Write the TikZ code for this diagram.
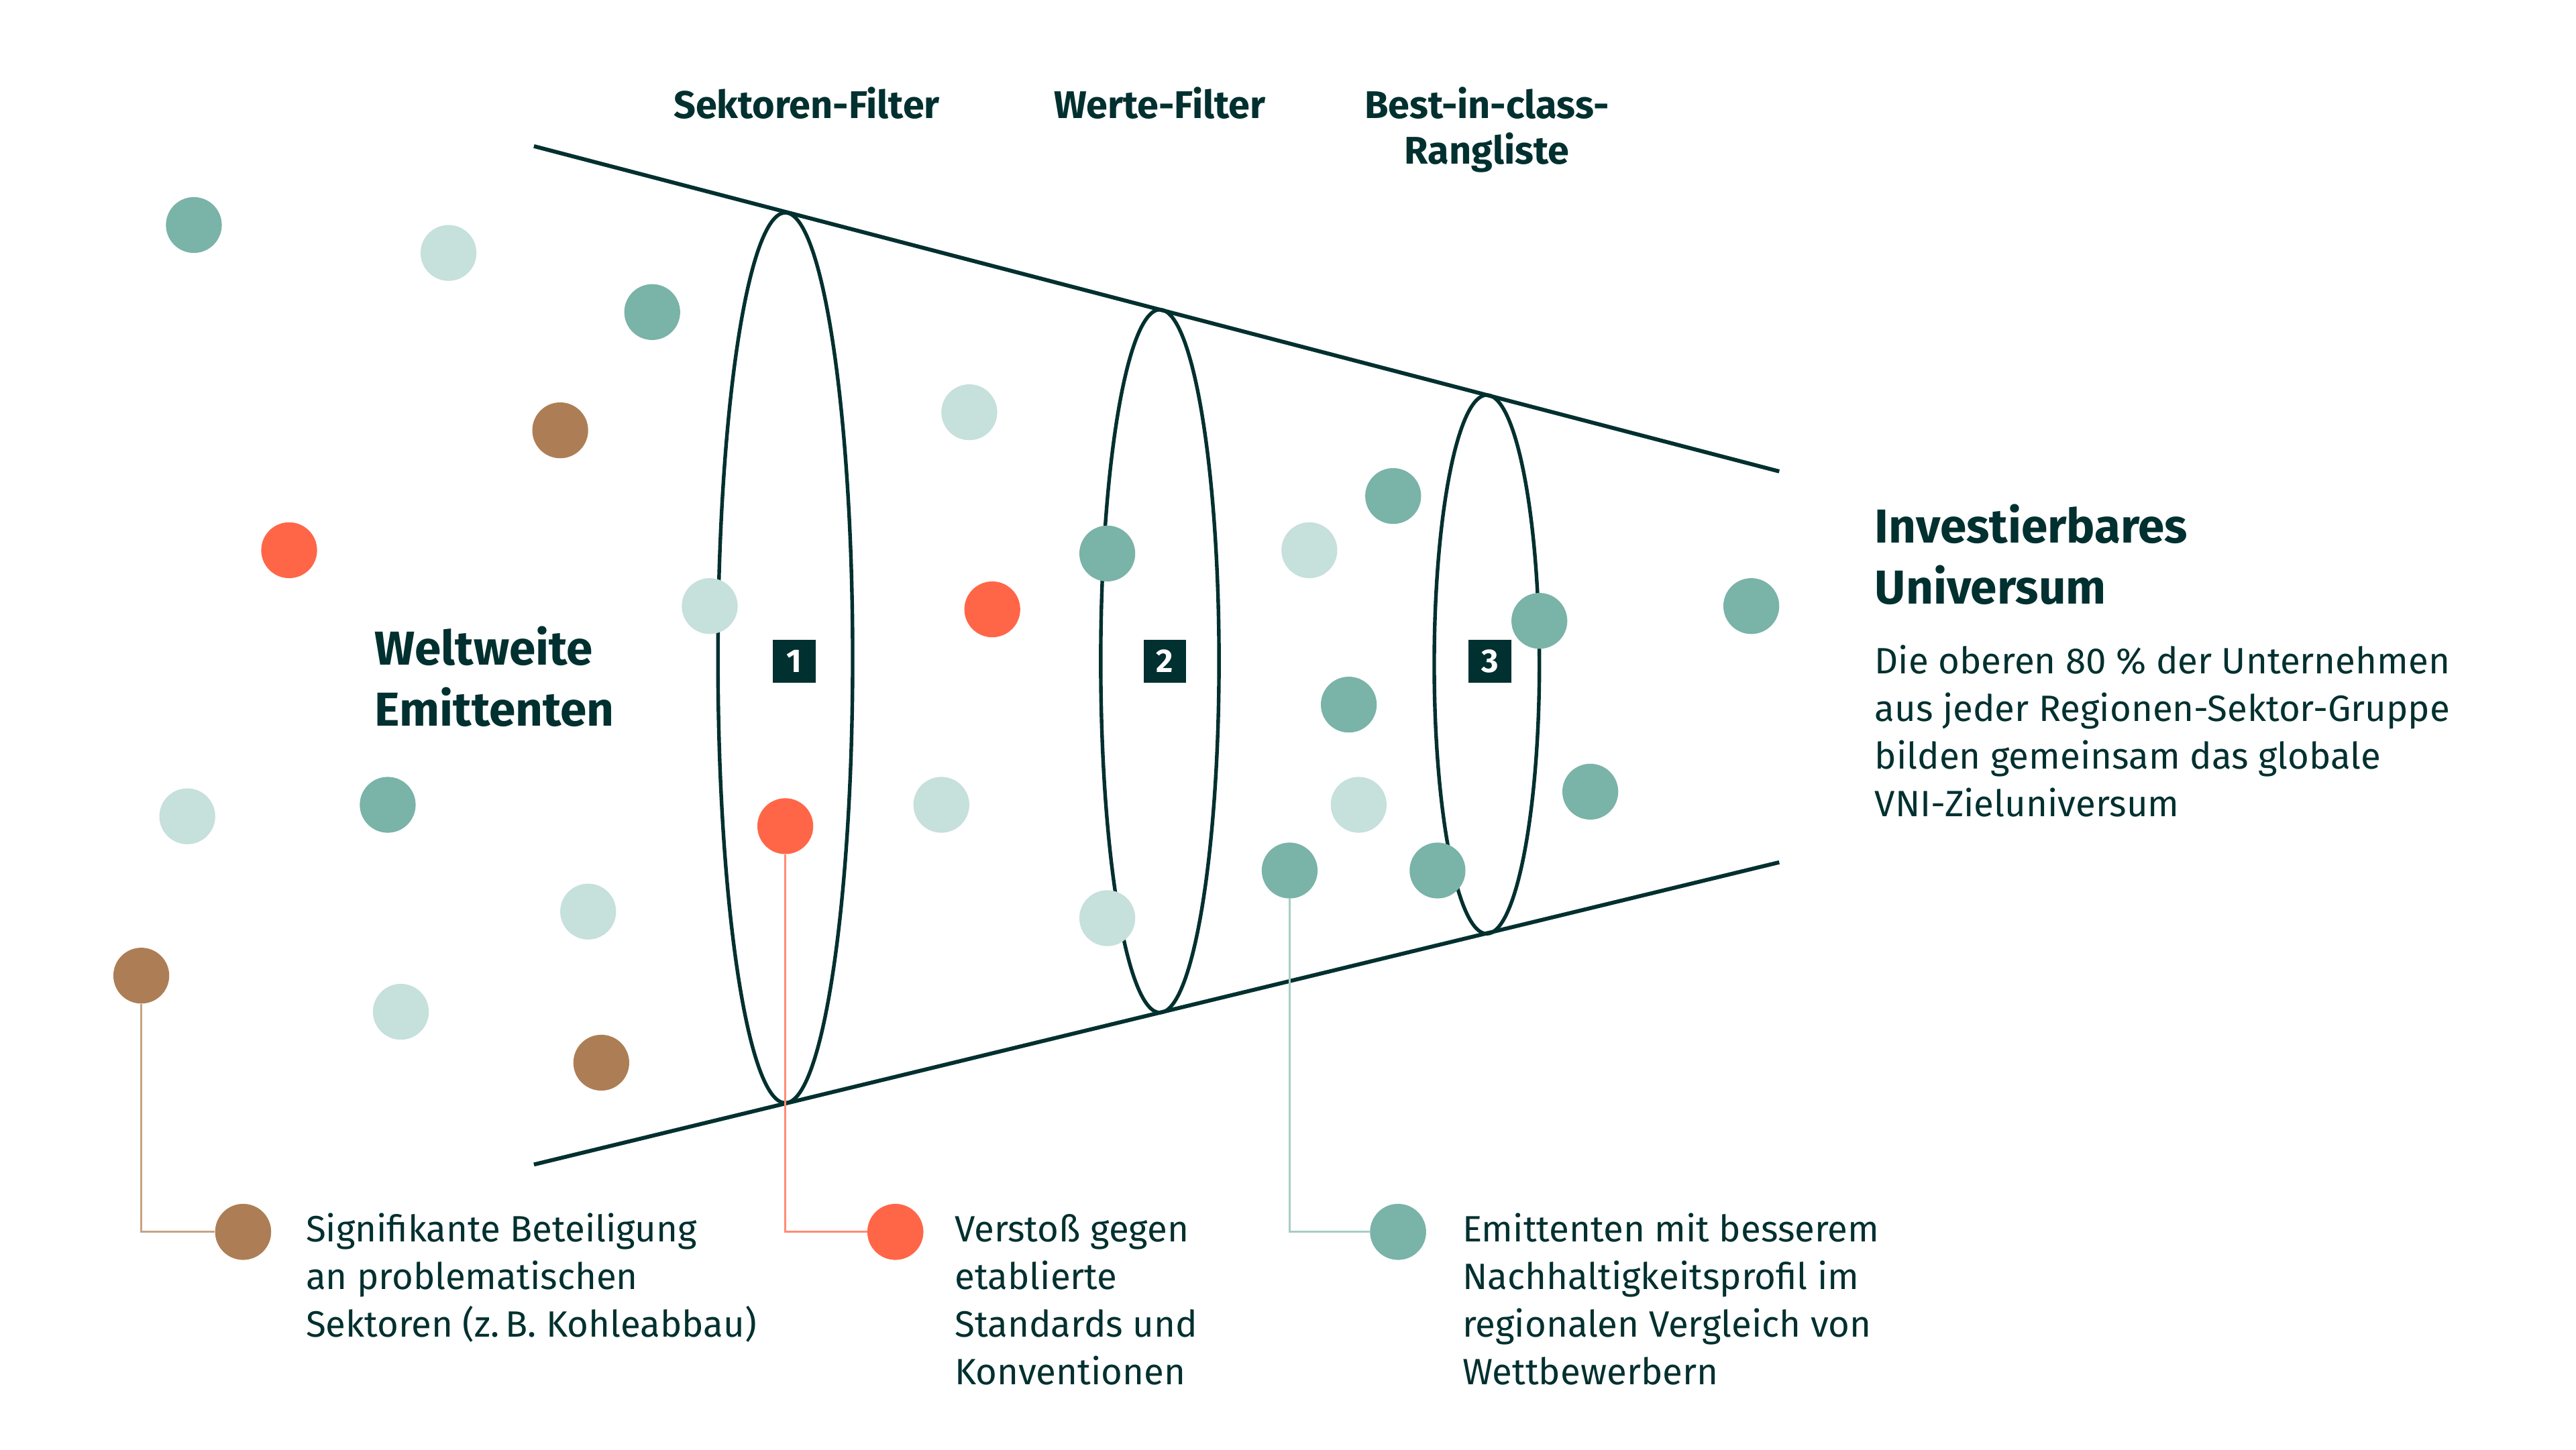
\documentclass[tikz,border=0pt]{standalone}
\usepackage{fontspec}
\setmainfont{Fira Sans}
\usetikzlibrary{shapes.geometric}
\definecolor{dk}{HTML}{00302F}
\definecolor{cTeal}{HTML}{7AB3A8}
\definecolor{cLight}{HTML}{C6E0DB}
\definecolor{cOrange}{HTML}{FF6647}
\definecolor{cBrown}{HTML}{AD7E55}
\definecolor{lBrown}{HTML}{C9A384}
\definecolor{lOrange}{HTML}{FF8C75}
\definecolor{lTeal}{HTML}{A6CDC4}
\tikzset{
  funnel/.style={draw=dk, line width=2.4pt},
  ring/.style={draw=dk, line width=2.2pt, ellipse, inner sep=0pt, fill=none},
  dot/.style={circle, minimum size=34pt, inner sep=0pt, draw=none},
  numbox/.style={fill=dk, text=white, minimum size=26pt, inner sep=0pt, font=\fontsize{20}{20}\selectfont\bfseries},
  head/.style={text=dk, inner sep=0pt, align=center, font=\fontsize{23.5}{28}\selectfont\bfseries},
  big/.style={text=dk, inner sep=0pt, align=left, anchor=base west, font=\fontsize{29}{37}\selectfont\bfseries},
  body/.style={text=dk, inner sep=0pt, align=left, anchor=base west, font=\fontsize{22.3}{29}\selectfont},
  conn/.style={line width=1.1pt}
}
\begin{document}
\begin{tikzpicture}[x=1pt,y=-1pt]
\useasboundingbox[fill=white] (0,0) rectangle (1568,882.8);
% funnel
\coordinate (tl) at (325,89);
\coordinate (tr) at (1083,287);
\coordinate (bl) at (325,709);
\coordinate (br) at (1083,525);
\draw[funnel] (tl) -- (tr);
\draw[funnel] (bl) -- (br);
% filter rings
\node[ring, minimum width=82pt, minimum height=542pt] (f1) at (478,400.5) {};
\node[ring, minimum width=72pt, minimum height=428pt] (f2) at (706,402.5) {};
\node[ring, minimum width=64pt, minimum height=328pt] (f3) at (905,404.5) {};
% number boxes
\node[numbox] (n1) at (483.5,402.5) {1};
\node[numbox] (n2) at (709,402.5) {2};
\node[numbox] (n3) at (907,402.5) {3};
% connectors
\node[dot, fill=cBrown] (lb) at (148,750) {};
\node[dot, fill=cOrange] (lo) at (545,750) {};
\node[dot, fill=cTeal] (lt) at (851,750) {};
\node[dot, fill=cBrown] (b2) at (86,594) {};
\node[dot, fill=cOrange] (o3) at (478,503) {};
\node[dot, fill=cTeal] (t9) at (785,530) {};
\draw[conn, draw=lBrown] (b2.south) |- (lb.west);
\draw[conn, draw=lOrange] (o3.south) |- (lo.west);
\draw[conn, draw=lTeal] (t9.south) |- (lt.west);
\node[dot, fill=cBrown] (lb2) at (148,750) {};
\node[dot, fill=cOrange] (lo2) at (545,750) {};
\node[dot, fill=cTeal] (lt2) at (851,750) {};
% teal dots
\node[dot, fill=cTeal] (t1) at (118,137) {};
\node[dot, fill=cTeal] (t2) at (397,190) {};
\node[dot, fill=cTeal] (t3) at (236,490) {};
\node[dot, fill=cTeal] (t4) at (674,337) {};
\node[dot, fill=cTeal] (t5) at (848,302) {};
\node[dot, fill=cTeal] (t6) at (821,429) {};
\node[dot, fill=cTeal] (t7) at (937,378) {};
\node[dot, fill=cTeal] (t8) at (968,482) {};
\node[dot, fill=cTeal] (t10) at (875,530) {};
\node[dot, fill=cTeal] (t11) at (1066,369) {};
% light dots
\node[dot, fill=cLight] (l1) at (273,154) {};
\node[dot, fill=cLight] (l2) at (590,251) {};
\node[dot, fill=cLight] (l3) at (432,369) {};
\node[dot, fill=cLight] (l4) at (114,497) {};
\node[dot, fill=cLight] (l5) at (358,555) {};
\node[dot, fill=cLight] (l6) at (244,616) {};
\node[dot, fill=cLight] (l7) at (573,490) {};
\node[dot, fill=cLight] (l8) at (797,335) {};
\node[dot, fill=cLight] (l9) at (827,490) {};
\node[dot, fill=cLight] (l10) at (674,559) {};
% brown dots
\node[dot, fill=cBrown] (b1) at (341,262) {};
\node[dot, fill=cBrown] (b3) at (366,647) {};
% orange dots
\node[dot, fill=cOrange] (o1) at (176,335) {};
\node[dot, fill=cOrange] (o2) at (604,371) {};
% headings
\node[head, anchor=base] (h1) at (491,72) {Sektoren-Filter};
\node[head, anchor=base] (h2) at (706,72) {Werte-Filter};
\node[head, anchor=base] (h3) at (905,100) {Best-in-class-\\Rangliste};
\node[big] (ww) at (228,442) {Weltweite\\Emittenten};
\node[big] (iu) at (1141,367.5) {Investierbares\\Universum};
\node[body] (desc) at (1141,497) {Die oberen 80 \% der Unternehmen\\aus jeder Regionen-Sektor-Gruppe\\bilden gemeinsam das globale\\VNI-Zieluniversum};
% legend
\node[body] (tx1) at (186,814) {Signifikante Beteiligung\\an problematischen\\Sektoren (z.\,B. Kohleabbau)};
\node[body] (tx2) at (581,843) {Verstoß gegen\\etablierte\\Standards und\\Konventionen};
\node[body] (tx3) at (890,843) {Emittenten mit besserem\\Nachhaltigkeitsprofil im\\regionalen Vergleich von\\Wettbewerbern};
\end{tikzpicture}
\end{document}
